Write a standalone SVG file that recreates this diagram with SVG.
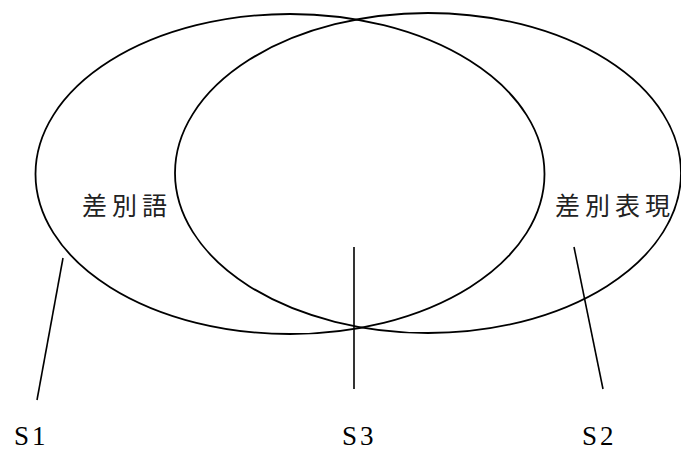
<svg xmlns="http://www.w3.org/2000/svg" width="681" height="452" viewBox="0 0 681 452">
<style>
.shape{fill:none;stroke:#000;stroke-width:1.8}
.ln{stroke:#000;stroke-width:1.6;fill:none}
.jp{font-family:"Noto Sans CJK JP","Noto Sans CJK SC",sans-serif;font-size:25px;letter-spacing:5px;fill:#222}
.lb{font-family:"Liberation Serif","DejaVu Serif",serif;font-size:27px;letter-spacing:3px;fill:#000}
</style>
<rect width="681" height="452" fill="#fff"/>
<g id="set-left">
<ellipse class="shape" cx="290" cy="174" rx="254.5" ry="160"/>
<text class="jp" x="82" y="215">差別語</text>
</g>
<g id="set-right">
<ellipse class="shape" cx="428" cy="173" rx="253" ry="160"/>
<text class="jp" x="555" y="215">差別表現</text>
</g>
<g id="connectors">
<line class="ln" x1="63" y1="258" x2="37" y2="400"/>
<line class="ln" x1="354" y1="247" x2="354" y2="389"/>
<line class="ln" x1="574" y1="247" x2="603" y2="389"/>
</g>
<g id="label-s1"><text class="lb" x="14" y="445">S1</text></g>
<g id="label-s3"><text class="lb" x="342" y="445">S3</text></g>
<g id="label-s2"><text class="lb" x="582" y="445">S2</text></g>
</svg>
